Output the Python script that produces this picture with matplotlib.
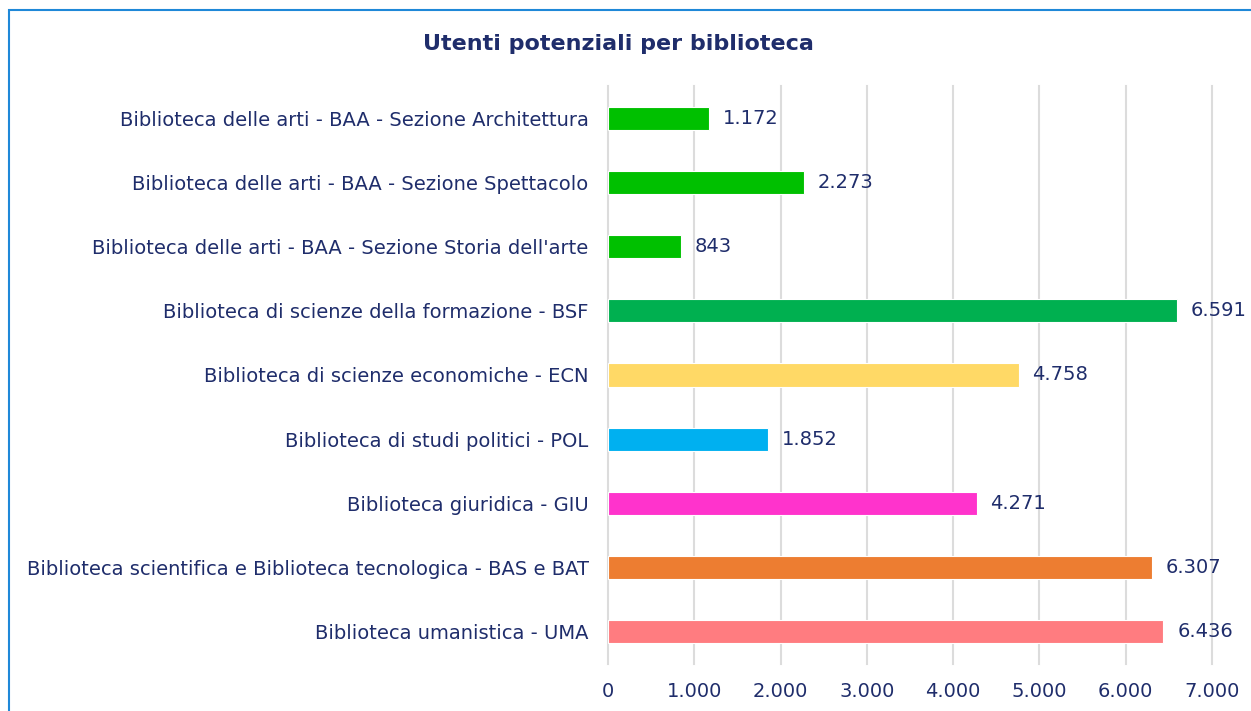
import matplotlib.pyplot as plt
from matplotlib.patches import Rectangle
from matplotlib.ticker import FuncFormatter

# data (top to bottom as shown)
libraries = [
    "Biblioteca delle arti - BAA - Sezione Architettura",
    "Biblioteca delle arti - BAA - Sezione Spettacolo",
    "Biblioteca delle arti - BAA - Sezione Storia dell'arte",
    "Biblioteca di scienze della formazione - BSF",
    "Biblioteca di scienze economiche - ECN",
    "Biblioteca di studi politici - POL",
    "Biblioteca giuridica - GIU",
    "Biblioteca scientifica e Biblioteca tecnologica - BAS e BAT",
    "Biblioteca umanistica - UMA",
]
users = [1172, 2273, 843, 6591, 4758, 1852, 4271, 6307, 6436]
colors = ["#00c000", "#00c000", "#00c000", "#00b050", "#ffd966",
          "#00b0f0", "#ff33cc", "#ed7d31", "#ff7c80"]

navy = "#1f2d6b"


def it_num(v, pos=None):
    return f"{int(v):,}".replace(",", ".")


plt.rcParams['font.family'] = ['DejaVu Sans']
fig = plt.figure(figsize=(12.51, 7.11), dpi=100)

# chart frame (blue border on top and left)
fig.add_artist(Rectangle((9 / 1251, -0.1), 1.2, 1 - 10 / 711 + 0.1,
                         transform=fig.transFigure, fill=False,
                         edgecolor="#1f88d8", linewidth=1.5))

ax = fig.add_axes([608 / 1251, 1 - 664 / 711, 604 / 1251, 578 / 711])
ypos = list(range(len(libraries)))
ax.barh(ypos, users, height=0.36, color=colors, edgecolor="white",
        linewidth=0.8, zorder=3)
ax.set_ylim(len(libraries) - 0.5, -0.5)
ax.set_xlim(0, 7000)
ax.set_xticks(range(0, 7001, 1000))
ax.xaxis.set_major_formatter(FuncFormatter(it_num))
ax.set_yticks(ypos)
ax.set_yticklabels(libraries)

for y, v in zip(ypos, users):
    ax.text(v + 160, y, it_num(v), va="center", ha="left",
            fontsize=14, color=navy)

ax.grid(axis="x", color="#dcdcdc", linewidth=1.5, zorder=0)
for gl in ax.get_xgridlines():
    gl.set_clip_on(False)
for s in ax.spines.values():
    s.set_visible(False)
ax.tick_params(axis="both", length=0, labelsize=14, labelcolor=navy)
ax.tick_params(axis="y", pad=14)
ax.tick_params(axis="x", pad=13)

fig.text(618 / 1251, 1 - 44 / 711, "Utenti potenziali per biblioteca",
         ha="center", va="center", fontsize=16, fontweight="bold", color=navy)

plt.savefig("out.png", dpi=100)
